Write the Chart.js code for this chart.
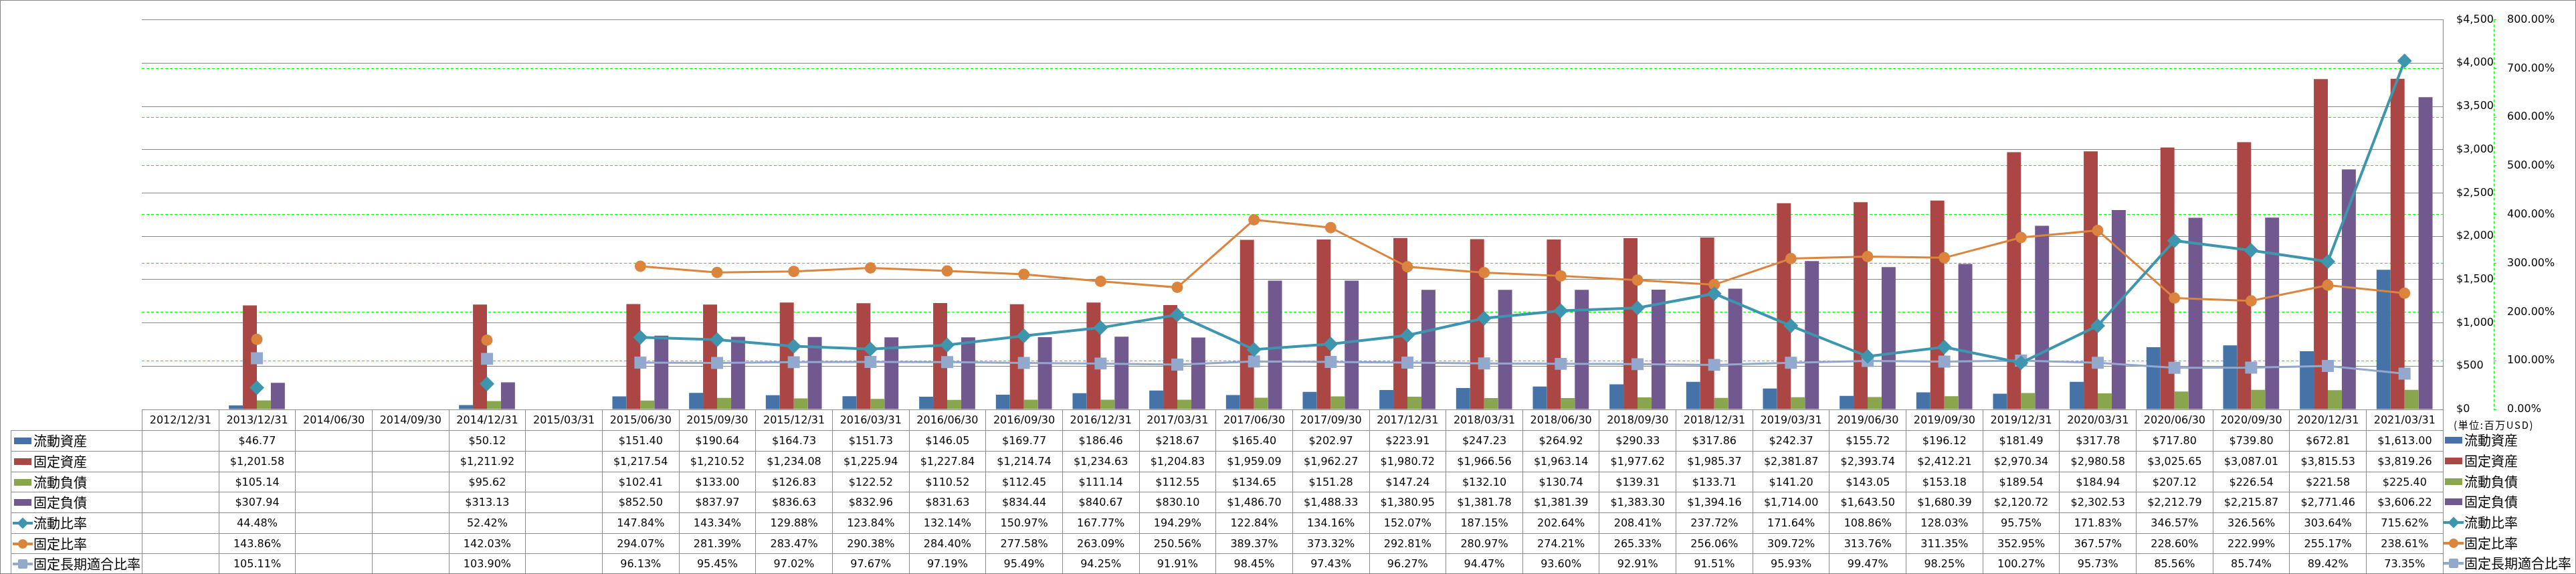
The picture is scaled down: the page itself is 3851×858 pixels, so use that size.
<!DOCTYPE html>
<html lang="ja">
<head>
<meta charset="utf-8">
<title>資産・負債と比率の推移</title>
<script src="https://cdn.jsdelivr.net/npm/chart.js@4.4.1/dist/chart.umd.min.js"></script>
<style>
  html, body { margin: 0; padding: 0; background: #fff; }
  #wrap { position: relative; width: 3851px; height: 858px; overflow: hidden; font-family: 'DejaVu Sans', 'Noto Sans CJK JP', sans-serif; color: #000; }
  #chart { position: absolute; left: 0; top: 0; }
  #frame { position: absolute; left: 0; top: 0; width: 3851px; height: 858px; box-sizing: border-box; border: 1px solid #868686; pointer-events: none; }
  #table { position: absolute; left: 16px; top: 612px; border-collapse: collapse; table-layout: fixed; font-size: 16px; }
  #table td { border: 1px solid #8c8c8c; padding: 0; text-align: center; white-space: nowrap; overflow: hidden; line-height: 1; }
  #table td.corner { border: none; }
  #table td.name { text-align: left; padding-left: 1px; }
  .key { display: flex; align-items: center; font-family: 'Noto Sans CJK JP', sans-serif; font-size: 20px; line-height: 1; }
  .ico { position: relative; width: 32px; height: 18px; flex: none; }
  .ico .bar { position: absolute; left: 3px; top: 4px; width: 26px; height: 10px; }
  .ico .ln { position: absolute; left: 1px; top: 7px; width: 30px; height: 4px; }
  .ico .mk { position: absolute; }
  .mk.dia { left: 10px; top: 3px; width: 12px; height: 12px; transform: rotate(45deg); }
  .mk.circ { left: 9px; top: 2px; width: 14px; height: 14px; border-radius: 50%; }
  .mk.sq { left: 9px; top: 2px; width: 14px; height: 14px; border-radius: 2px; }
  #unit { position: absolute; left: 3668px; top: 626px; font-family: 'Noto Sans CJK JP', sans-serif; font-size: 15px; letter-spacing: 1.6px; line-height: 18px; }
  #legend2 { position: absolute; left: 3652px; top: 643px; }
  #legend2 .key { height: 30.7px; }
</style>
</head>
<body>
<div id="wrap">
  <canvas id="chart" width="3851" height="858"></canvas>
  <table id="table"></table>
  <div id="unit">(単位:百万USD)</div>
  <div id="legend2"></div>
  <div id="frame"></div>
</div>
<script>
const periods = [
  '2012/12/31', '2013/12/31', '2014/06/30', '2014/09/30', '2014/12/31', '2015/03/31',
  '2015/06/30', '2015/09/30', '2015/12/31', '2016/03/31', '2016/06/30', '2016/09/30',
  '2016/12/31', '2017/03/31', '2017/06/30', '2017/09/30', '2017/12/31', '2018/03/31',
  '2018/06/30', '2018/09/30', '2018/12/31', '2019/03/31', '2019/06/30', '2019/09/30',
  '2019/12/31', '2020/03/31', '2020/06/30', '2020/09/30', '2020/12/31', '2021/03/31'
];

// 百万USD
const currentAssets = [
  null, 46.77, null, null, 50.12, null,
  151.40, 190.64, 164.73, 151.73, 146.05, 169.77,
  186.46, 218.67, 165.40, 202.97, 223.91, 247.23,
  264.92, 290.33, 317.86, 242.37, 155.72, 196.12,
  181.49, 317.78, 717.80, 739.80, 672.81, 1613.00
];
const fixedAssets = [
  null, 1201.58, null, null, 1211.92, null,
  1217.54, 1210.52, 1234.08, 1225.94, 1227.84, 1214.74,
  1234.63, 1204.83, 1959.09, 1962.27, 1980.72, 1966.56,
  1963.14, 1977.62, 1985.37, 2381.87, 2393.74, 2412.21,
  2970.34, 2980.58, 3025.65, 3087.01, 3815.53, 3819.26
];
const currentLiabilities = [
  null, 105.14, null, null, 95.62, null,
  102.41, 133.00, 126.83, 122.52, 110.52, 112.45,
  111.14, 112.55, 134.65, 151.28, 147.24, 132.10,
  130.74, 139.31, 133.71, 141.20, 143.05, 153.18,
  189.54, 184.94, 207.12, 226.54, 221.58, 225.40
];
const fixedLiabilities = [
  null, 307.94, null, null, 313.13, null,
  852.50, 837.97, 836.63, 832.96, 831.63, 834.44,
  840.67, 830.10, 1486.70, 1488.33, 1380.95, 1381.78,
  1381.39, 1383.30, 1394.16, 1714.00, 1643.50, 1680.39,
  2120.72, 2302.53, 2212.79, 2215.87, 2771.46, 3606.22
];

// %
const currentRatio = [
  null, 44.48, null, null, 52.42, null,
  147.84, 143.34, 129.88, 123.84, 132.14, 150.97,
  167.77, 194.29, 122.84, 134.16, 152.07, 187.15,
  202.64, 208.41, 237.72, 171.64, 108.86, 128.03,
  95.75, 171.83, 346.57, 326.56, 303.64, 715.62
];
const fixedRatio = [
  null, 143.86, null, null, 142.03, null,
  294.07, 281.39, 283.47, 290.38, 284.40, 277.58,
  263.09, 250.56, 389.37, 373.32, 292.81, 280.97,
  274.21, 265.33, 256.06, 309.72, 313.76, 311.35,
  352.95, 367.57, 228.60, 222.99, 255.17, 238.61
];
const fixedLongTermRatio = [
  null, 105.11, null, null, 103.90, null,
  96.13, 95.45, 97.02, 97.67, 97.19, 95.49,
  94.25, 91.91, 98.45, 97.43, 96.27, 94.47,
  93.60, 92.91, 91.51, 95.93, 99.47, 98.25,
  100.27, 95.73, 85.56, 85.74, 89.42, 73.35
];

const series = [
  { name: '流動資産', data: currentAssets, kind: 'bar', color: '#4572A7' },
  { name: '固定資産', data: fixedAssets, kind: 'bar', color: '#AA4643' },
  { name: '流動負債', data: currentLiabilities, kind: 'bar', color: '#89A54E' },
  { name: '固定負債', data: fixedLiabilities, kind: 'bar', color: '#71588F' },
  { name: '流動比率', data: currentRatio, kind: 'line', color: '#3D96AE', marker: 'dia' },
  { name: '固定比率', data: fixedRatio, kind: 'line', color: '#DB843D', marker: 'circ' },
  { name: '固定長期適合比率', data: fixedLongTermRatio, kind: 'line', color: '#92A8CD', marker: 'sq' },
];

const moneyFmt = (v) => '$' + v.toLocaleString('en-US', { minimumFractionDigits: 2, maximumFractionDigits: 2 });
const pctFmt = (v) => v.toFixed(2) + '%';

const pointStyles = { dia: ['rectRot', 11], circ: ['circle', 8.5], sq: ['rect', 12.7] };

const datasets = series.map((s) => {
    if (s.kind === 'bar') {
        return {
            type: 'bar',
            label: s.name,
            data: s.data,
            backgroundColor: s.color,
            borderWidth: 0,
            categoryPercentage: 0.73,
            barPercentage: 1.0,
            yAxisID: 'y',
            order: 1,
        };
    }
    const [style, radius] = pointStyles[s.marker];
    return {
        type: 'line',
        label: s.name,
        data: s.data,
        borderColor: s.color,
        backgroundColor: s.color,
        borderWidth: s.marker === 'dia' ? 4 : 3,
        pointStyle: style,
        pointRadius: radius,
        pointHoverRadius: radius,
        pointBorderWidth: 0,
        tension: 0,
        spanGaps: false,
        yAxisID: 'y2',
        order: 0,
    };
});

const dashedAxisLine = {
    id: 'dashedAxisLine',
    afterDraw(chart) {
        const s = chart.scales.y2;
        const ctx = chart.ctx;
        ctx.save();
        ctx.strokeStyle = '#00ff00';
        ctx.lineWidth = 1;
        ctx.setLineDash([4, 3]);
        ctx.beginPath();
        ctx.moveTo(Math.round(s.left) + 0.5, s.top);
        ctx.lineTo(Math.round(s.left) + 0.5, s.bottom);
        ctx.stroke();
        ctx.restore();
    },
};

const tickFont = { family: "'DejaVu Sans', sans-serif", size: 16 };

new Chart(document.getElementById('chart'), {
    type: 'bar',
    data: { labels: periods, datasets },
    plugins: [dashedAxisLine],
    options: {
        responsive: false,
        animation: false,
        layout: { padding: { left: 212, top: 14, right: 0, bottom: 246 } },
        plugins: {
            legend: { display: false },
            tooltip: { enabled: false },
        },
        scales: {
            x: { display: false, offset: true },
            y: {
                position: 'right',
                weight: 1,
                min: 0,
                max: 4500,
                ticks: {
                    stepSize: 500,
                    crossAlign: 'near',
                    padding: 20,
                    color: '#000',
                    font: tickFont,
                    callback: (v) => '$' + v.toLocaleString('en-US'),
                },
                grid: { color: '#868686', lineWidth: 1, drawTicks: false },
                border: { color: '#868686', width: 1 },
                afterFit: (scale) => { scale.width = 76; },
            },
            y2: {
                position: 'right',
                weight: 2,
                min: 0,
                max: 800,
                ticks: {
                    stepSize: 100,
                    crossAlign: 'near',
                    padding: 16,
                    color: '#000',
                    font: tickFont,
                    callback: (v) => v.toFixed(2) + '%',
                },
                grid: {
                    color: (c) => (c.index === 0 || c.index === 8) ? 'rgba(0,0,0,0)' : '#00ff00',
                    tickColor: '#00ff00',
                    tickLength: 4,
                    lineWidth: 1,
                },
                border: { display: false, dash: [4, 3] },
                afterFit: (scale) => { scale.width = 123; },
            },
        },
    },
});

// data table below the plot
function legendKey(s) {
    const key = document.createElement('div');
    key.className = 'key';
    const ico = document.createElement('span');
    ico.className = 'ico';
    if (s.kind === 'bar') {
        ico.innerHTML = `<i class="bar" style="background:${s.color}"></i>`;
    } else {
        ico.innerHTML = `<i class="ln" style="background:${s.color}"></i><i class="mk ${s.marker}" style="background:${s.color}"></i>`;
    }
    key.appendChild(ico);
    key.appendChild(document.createTextNode(s.name));
    return key;
}

const table = document.getElementById('table');
const colW = 3440 / periods.length;
const colgroup = document.createElement('colgroup');
colgroup.innerHTML = '<col style="width:196px">' + periods.map(() => `<col style="width:${colW}px">`).join('');
table.appendChild(colgroup);

const rowHeights = [31, 31, 31, 30, 31, 31, 30, 31];
const head = table.insertRow();
head.style.height = rowHeights[0] + 'px';
const corner = head.insertCell();
corner.className = 'corner';
periods.forEach((p) => { head.insertCell().textContent = p; });

series.forEach((s, i) => {
    const tr = table.insertRow();
    tr.style.height = rowHeights[i + 1] + 'px';
    const nameCell = tr.insertCell();
    nameCell.className = 'name';
    nameCell.appendChild(legendKey(s));
    s.data.forEach((v) => {
        const td = tr.insertCell();
        if (v !== null) td.textContent = s.kind === 'bar' ? moneyFmt(v) : pctFmt(v);
    });
});

const legend2 = document.getElementById('legend2');
series.forEach((s) => legend2.appendChild(legendKey(s)));
</script>
</body>
</html>
